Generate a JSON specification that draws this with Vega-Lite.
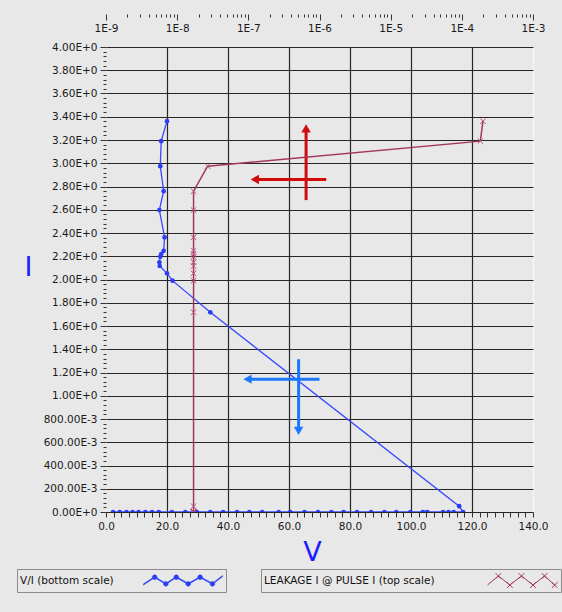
{
  "$schema": "https://vega.github.io/schema/vega-lite/v6.json",
  "autosize": {"type": "none"},
  "width": 427,
  "height": 465,
  "padding": {"left": 106, "top": 47, "right": 29, "bottom": 100},
  "background": "#e8e8e8",
  "datasets": {
    "pts": [
      {"i": 1, "V": 2.3, "I": 0, "L": 1.7e-8},
      {"i": 2, "V": 4.5, "I": 0, "L": 1.7e-8},
      {"i": 3, "V": 6.7, "I": 0, "L": 1.7e-8},
      {"i": 4, "V": 8.7, "I": 0, "L": 1.7e-8},
      {"i": 5, "V": 10.7, "I": 0, "L": 1.7e-8},
      {"i": 6, "V": 12.9, "I": 0, "L": 1.7e-8},
      {"i": 7, "V": 15.1, "I": 0, "L": 1.7e-8},
      {"i": 8, "V": 17.3, "I": 0, "L": 1.7e-8},
      {"i": 9, "V": 21.6, "I": 0, "L": 1.7e-8},
      {"i": 10, "V": 26.0, "I": 0, "L": 1.7e-8},
      {"i": 11, "V": 29.8, "I": 0, "L": 1.7e-8},
      {"i": 12, "V": 34.2, "I": 0, "L": 1.7e-8},
      {"i": 13, "V": 38.4, "I": 0, "L": 1.7e-8},
      {"i": 14, "V": 43.0, "I": 0, "L": 1.7e-8},
      {"i": 15, "V": 47.0, "I": 0, "L": 1.7e-8},
      {"i": 16, "V": 51.2, "I": 0, "L": 1.7e-8},
      {"i": 17, "V": 56.6, "I": 0, "L": 1.7e-8},
      {"i": 18, "V": 60.4, "I": 0, "L": 1.7e-8},
      {"i": 19, "V": 65.1, "I": 0, "L": 1.7e-8},
      {"i": 20, "V": 69.5, "I": 0, "L": 1.7e-8},
      {"i": 21, "V": 73.9, "I": 0, "L": 1.7e-8},
      {"i": 22, "V": 77.9, "I": 0, "L": 1.7e-8},
      {"i": 23, "V": 82.3, "I": 0, "L": 1.7e-8},
      {"i": 24, "V": 86.9, "I": 0, "L": 1.7e-8},
      {"i": 25, "V": 91.3, "I": 0, "L": 1.7e-8},
      {"i": 26, "V": 95.2, "I": 0, "L": 1.7e-8},
      {"i": 27, "V": 99.8, "I": 0, "L": 1.7e-8},
      {"i": 28, "V": 103.9, "I": 0, "L": 1.7e-8},
      {"i": 29, "V": 105.3, "I": 0, "L": 1.7e-8},
      {"i": 30, "V": 110.5, "I": 0, "L": 1.7e-8},
      {"i": 31, "V": 112.3, "I": 0, "L": 1.7e-8},
      {"i": 32, "V": 114.0, "I": 0, "L": 1.7e-8},
      {"i": 33, "V": 117.1, "I": 0, "L": 1.7e-8},
      {"i": 34, "V": 115.8, "I": 0.05, "L": 1.7e-8},
      {"i": 35, "V": 34.2, "I": 1.718, "L": 1.7e-8},
      {"i": 36, "V": 21.8, "I": 1.99, "L": 1.7e-8},
      {"i": 37, "V": 20.0, "I": 2.053, "L": 1.7e-8},
      {"i": 38, "V": 17.6, "I": 2.116, "L": 1.7e-8},
      {"i": 39, "V": 17.5, "I": 2.148, "L": 1.7e-8},
      {"i": 40, "V": 17.8, "I": 2.196, "L": 1.7e-8},
      {"i": 41, "V": 18.1, "I": 2.219, "L": 1.7e-8},
      {"i": 42, "V": 18.9, "I": 2.247, "L": 1.7e-8},
      {"i": 43, "V": 19.2, "I": 2.363, "L": 1.7e-8},
      {"i": 44, "V": 17.5, "I": 2.597, "L": 1.7e-8},
      {"i": 45, "V": 18.9, "I": 2.76, "L": 1.7e-8},
      {"i": 46, "V": 17.8, "I": 2.975, "L": 2.68e-8},
      {"i": 47, "V": 18.1, "I": 3.19, "L": 1.82e-4},
      {"i": 48, "V": 20.0, "I": 3.362, "L": 1.98e-4}
    ],
    "arrows": [
      {"arrow": "red", "dir": "left", "x1": 72.2, "y1": 2.861, "x2": 48.8, "y2": 2.861},
      {"arrow": "red", "dir": "up", "x1": 65.6, "y1": 2.683, "x2": 65.6, "y2": 3.30},
      {"arrow": "blue", "dir": "left", "x1": 70.0, "y1": 1.143, "x2": 46.4, "y2": 1.143},
      {"arrow": "blue", "dir": "down", "x1": 63.15, "y1": 1.314, "x2": 63.15, "y2": 0.698}
    ]
  },
  "layer": [
    {
      "data": {"name": "pts"},
      "mark": {"type": "line", "color": "#3848ff", "strokeWidth": 1.3, "clip": true},
      "encoding": {
        "x": {
          "field": "V", "type": "quantitative",
          "scale": {"domain": [0, 140], "nice": false, "zero": false},
          "axis": {
            "orient": "bottom",
            "title": "V",
            "titleColor": "#1c1cff", "titleFontSize": 27, "titleFontWeight": "normal",
            "titleX": 206, "titleY": 48, "titleAlign": "center", "titleBaseline": "alphabetic",
            "values": [0,2.5,5,7.5,10,12.5,15,17.5,20,22.5,25,27.5,30,32.5,35,37.5,40,42.5,45,47.5,50,52.5,55,57.5,60,62.5,65,67.5,70,72.5,75,77.5,80,82.5,85,87.5,90,92.5,95,97.5,100,102.5,105,107.5,110,112.5,115,117.5,120,122.5,125,127.5,130,132.5,135,137.5,140],
            "labelExpr": "abs(datum.value/20-round(datum.value/20))<0.001 ? format(datum.value,'.1f') : ''",
            "labelFlush": false, "labelOverlap": false, "labelBound": false, "labelPadding": 4,
            "tickSize": 5,
            "grid": true,
            "gridColor": {"condition": {"test": "datum.value>139", "value": "#fafafa"}, "value": "#262626"},
            "gridOpacity": {"condition": {"test": "abs(datum.value/20-round(datum.value/20))<0.001 && datum.value>0", "value": 1}, "value": 0},
            "gridWidth": 1.2
          }
        },
        "y": {
          "field": "I", "type": "quantitative",
          "scale": {"domain": [0, 4], "nice": false, "zero": false},
          "axis": {
            "orient": "left",
            "title": "I",
            "titleColor": "#1c1cff", "titleFontSize": 27, "titleFontWeight": "normal",
            "titleAngle": 0, "titleX": -78, "titleY": 220, "titleAlign": "center", "titleBaseline": "middle",
            "values": [0,0.04,0.08,0.12,0.16,0.2,0.24,0.28,0.32,0.36,0.4,0.44,0.48,0.52,0.56,0.6,0.64,0.68,0.72,0.76,0.8,0.84,0.88,0.92,0.96,1,1.04,1.08,1.12,1.16,1.2,1.24,1.28,1.32,1.36,1.4,1.44,1.48,1.52,1.56,1.6,1.64,1.68,1.72,1.76,1.8,1.84,1.88,1.92,1.96,2,2.04,2.08,2.12,2.16,2.2,2.24,2.28,2.32,2.36,2.4,2.44,2.48,2.52,2.56,2.6,2.64,2.68,2.72,2.76,2.8,2.84,2.88,2.92,2.96,3,3.04,3.08,3.12,3.16,3.2,3.24,3.28,3.32,3.36,3.4,3.44,3.48,3.52,3.56,3.6,3.64,3.68,3.72,3.76,3.8,3.84,3.88,3.92,3.96,4],
            "labelExpr": "abs(datum.value*5-round(datum.value*5))<0.001 ? (datum.value>=1 ? format(datum.value,'.2f')+'E+0' : (datum.value==0 ? '0.00E+0' : format(datum.value*1000,'.2f')+'E-3')) : ''",
            "labelOverlap": false, "labelBound": false, "labelFlush": false, "labelPadding": 3,
            "tickSize": {"condition": {"test": "abs(datum.value*5-round(datum.value*5))<0.001", "value": 6}, "value": 3},
            "grid": true,
            "gridColor": "#262626",
            "gridOpacity": {"condition": {"test": "abs(datum.value*5-round(datum.value*5))<0.001", "value": 1}, "value": 0},
            "gridWidth": 1.2
          }
        },
        "order": {"field": "i"}
      }
    },
    {
      "data": {"name": "pts"},
      "mark": {"type": "point", "filled": true, "size": 22, "opacity": 1, "clip": true},
      "encoding": {
        "x": {"field": "V", "type": "quantitative", "scale": {"domain": [0, 140], "nice": false, "zero": false}, "axis": null},
        "y": {"field": "I", "type": "quantitative", "scale": {"domain": [0, 4], "nice": false, "zero": false}, "axis": null},
        "color": {
          "datum": "V/I (bottom scale)",
          "scale": {"domain": ["V/I (bottom scale)"], "range": ["#2b3df5"]},
          "legend": {
            "orient": "none", "legendX": -89, "legendY": 522,
            "title": "V/I (bottom scale)", "titleOrient": "left", "titleAnchor": "middle", "titleBaseline": "middle",
            "titleFontSize": 10.5, "titleFontWeight": "normal", "titleColor": "#111111", "titlePadding": 29,
            "labelExpr": "''", "labelOffset": 0,
            "symbolType": "M-1,0.085L-0.717,-0.1L-0.434,0.07L-0.17,-0.1L0.132,0.07L0.434,-0.1L0.745,0.07L1,-0.125L1,-0.095L0.745,0.1L0.434,-0.07L0.132,0.1L-0.17,-0.07L-0.434,0.1L-0.717,-0.07L-1,0.115Z M-0.777,-0.085a0.06,0.06 0 1,1 0.12,0a0.06,0.06 0 1,1 -0.12,0Z M-0.494,0.085a0.06,0.06 0 1,1 0.12,0a0.06,0.06 0 1,1 -0.12,0Z M-0.23,-0.085a0.06,0.06 0 1,1 0.12,0a0.06,0.06 0 1,1 -0.12,0Z M0.072,0.085a0.06,0.06 0 1,1 0.12,0a0.06,0.06 0 1,1 -0.12,0Z M0.374,-0.085a0.06,0.06 0 1,1 0.12,0a0.06,0.06 0 1,1 -0.12,0Z M0.685,0.085a0.06,0.06 0 1,1 0.12,0a0.06,0.06 0 1,1 -0.12,0Z",
            "symbolSize": 6241, "symbolStrokeWidth": 0.5, "symbolOpacity": 1,
            "symbolFillColor": "#2b3df5", "symbolStrokeColor": "#2b3df5",
            "padding": 3, "strokeColor": "#8c8c8c", "fillColor": "#e8e8e8", "clipHeight": 17
          }
        }
      }
    },
    {
      "data": {"name": "arrows"},
      "transform": [{"filter": "datum.arrow == 'red'"}],
      "mark": {"type": "rule", "color": "#d10a0a", "strokeWidth": 3},
      "encoding": {
        "x": {"field": "x1", "type": "quantitative", "scale": {"domain": [0, 140], "nice": false, "zero": false}, "axis": null},
        "y": {"field": "y1", "type": "quantitative", "scale": {"domain": [0, 4], "nice": false, "zero": false}, "axis": null},
        "x2": {"field": "x2"},
        "y2": {"field": "y2"}
      }
    },
    {
      "data": {"name": "arrows"},
      "transform": [{"filter": "datum.arrow == 'blue'"}],
      "mark": {"type": "rule", "color": "#1a78ff", "strokeWidth": 3},
      "encoding": {
        "x": {"field": "x1", "type": "quantitative", "scale": {"domain": [0, 140], "nice": false, "zero": false}, "axis": null},
        "y": {"field": "y1", "type": "quantitative", "scale": {"domain": [0, 4], "nice": false, "zero": false}, "axis": null},
        "x2": {"field": "x2"},
        "y2": {"field": "y2"}
      }
    },
    {
      "data": {"name": "arrows"},
      "transform": [{"filter": "datum.arrow == 'red'"}],
      "mark": {"type": "point", "filled": true, "size": 90, "opacity": 1, "color": "#d10a0a"},
      "encoding": {
        "x": {"field": "x2", "type": "quantitative", "scale": {"domain": [0, 140], "nice": false, "zero": false}, "axis": null},
        "y": {"field": "y2", "type": "quantitative", "scale": {"domain": [0, 4], "nice": false, "zero": false}, "axis": null},
        "shape": {"field": "dir", "type": "nominal", "scale": {"domain": ["left", "up", "down"], "range": ["triangle-left", "triangle-up", "triangle-down"]}, "legend": null}
      }
    },
    {
      "data": {"name": "arrows"},
      "transform": [{"filter": "datum.arrow == 'blue'"}],
      "mark": {"type": "point", "filled": true, "size": 90, "opacity": 1, "color": "#1a78ff"},
      "encoding": {
        "x": {"field": "x2", "type": "quantitative", "scale": {"domain": [0, 140], "nice": false, "zero": false}, "axis": null},
        "y": {"field": "y2", "type": "quantitative", "scale": {"domain": [0, 4], "nice": false, "zero": false}, "axis": null},
        "shape": {"field": "dir", "type": "nominal", "legend": null}
      }
    },
    {
      "data": {"name": "pts"},
      "mark": {"type": "line", "strokeWidth": 1.5, "clip": true},
      "encoding": {
        "x": {
          "field": "L", "type": "quantitative",
          "scale": {"type": "log", "domain": [1e-9, 1e-3], "nice": false},
          "axis": {
            "orient": "bottom", "offset": -498, "title": null,
            "values": [1e-9,2e-9,3e-9,4e-9,5e-9,6e-9,7e-9,8e-9,9e-9,1e-8,2e-8,3e-8,4e-8,5e-8,6e-8,7e-8,8e-8,9e-8,1e-7,2e-7,3e-7,4e-7,5e-7,6e-7,7e-7,8e-7,9e-7,1e-6,2e-6,3e-6,4e-6,5e-6,6e-6,7e-6,8e-6,9e-6,1e-5,2e-5,3e-5,4e-5,5e-5,6e-5,7e-5,8e-5,9e-5,1e-4,2e-4,3e-4,4e-4,5e-4,6e-4,7e-4,8e-4,9e-4,1e-3],
            "labelExpr": "abs(log(datum.value)/LN10-round(log(datum.value)/LN10))<0.001 ? '1E'+round(log(datum.value)/LN10) : ''",
            "labelFlush": false, "labelOverlap": false, "labelBound": false, "labelPadding": 3,
            "tickSize": {"condition": {"test": "abs(log(datum.value)/LN10-round(log(datum.value)/LN10))<0.001", "value": 6}, "value": 3},
            "grid": false
          }
        },
        "y": {"field": "I", "type": "quantitative", "scale": {"domain": [0, 4], "nice": false, "zero": false}, "axis": null},
        "order": {"field": "i"},
        "stroke": {
          "datum": "LEAKAGE I @ PULSE I (top scale)",
          "scale": {"domain": ["LEAKAGE I @ PULSE I (top scale)"], "range": ["#a3365f"]},
          "legend": {
            "orient": "none", "legendX": 155, "legendY": 522,
            "title": "LEAKAGE I @ PULSE I (top scale)", "titleOrient": "left", "titleAnchor": "middle", "titleBaseline": "middle",
            "titleFontSize": 10.5, "titleFontWeight": "normal", "titleColor": "#111111", "titlePadding": 52,
            "labelExpr": "''", "labelOffset": 0,
            "symbolType": "M-1,0.13L-0.69,-0.13L-0.36,0.13L-0.03,-0.13L0.3,0.13L0.63,-0.13L0.92,0.13 M-0.77,-0.21L-0.61,-0.05M-0.77,-0.05L-0.61,-0.21 M-0.44,0.05L-0.28,0.21M-0.44,0.21L-0.28,0.05 M-0.11,-0.21L0.05,-0.05M-0.11,-0.05L0.05,-0.21 M0.22,0.05L0.38,0.21M0.22,0.21L0.38,0.05 M0.55,-0.21L0.71,-0.05M0.55,-0.05L0.71,-0.21 M0.84,0.05L1,0.21M0.84,0.21L1,0.05",
            "symbolSize": 4900, "symbolStrokeWidth": 1, "symbolFillColor": "transparent", "symbolStrokeColor": "#b8507f", "symbolOpacity": 1,
            "padding": 3, "strokeColor": "#8c8c8c", "fillColor": "#e8e8e8", "clipHeight": 17
          }
        }
      }
    },
    {
      "data": {"name": "pts"},
      "mark": {"type": "point", "shape": "M-1,-1L1,1M-1,1L1,-1", "filled": false, "size": 30, "strokeWidth": 1, "opacity": 1, "color": "#b8507f", "clip": true},
      "encoding": {
        "x": {"field": "L", "type": "quantitative", "scale": {"type": "log", "domain": [1e-9, 1e-3], "nice": false}, "axis": null},
        "y": {"field": "I", "type": "quantitative", "scale": {"domain": [0, 4], "nice": false, "zero": false}, "axis": null}
      }
    }
  ],
  "resolve": {"scale": {"x": "independent", "y": "independent"}},
  "config": {
    "font": "DejaVu Sans",
    "view": {"stroke": null, "fill": "#e8e8e8"},
    "axis": {
      "labelFont": "DejaVu Sans", "labelFontSize": 10.5, "labelColor": "#1a1a1a",
      "titleFont": "DejaVu Sans",
      "domain": false, "tickColor": "#333333", "tickWidth": 1
    },
    "legend": {"titleFont": "DejaVu Sans", "labelFont": "DejaVu Sans"}
  }
}
